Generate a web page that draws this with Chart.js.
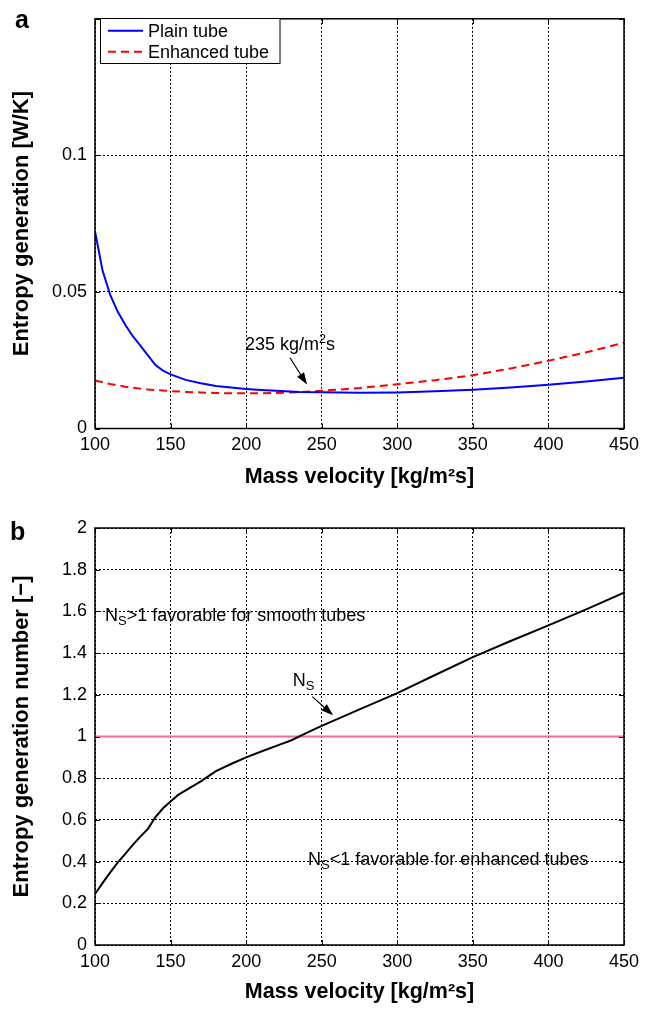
<!DOCTYPE html>
<html>
<head>
<meta charset="utf-8">
<script src="https://cdn.jsdelivr.net/npm/chart.js@4"></script>
<style>
  html, body { margin: 0; padding: 0; background: #fff; }
  #wrap { position: relative; width: 652px; height: 1011px; }
  .box { position: absolute; left: 0; width: 652px; }
</style>
</head>
<body>
<div id="wrap">
  <div class="box" style="top:0; height:500px;"><canvas id="chartA"></canvas></div>
  <div class="box" style="top:500px; height:511px;"><canvas id="chartB"></canvas></div>
</div>
<script>
// ---- data ----
const massA = [100,105,110,115,120,125,130,135,140,145,150,160,170,180,190,200,210,220,235,250,275,300,325,350,375,400,425,450];
const plainTube = [0.0722,0.0578,0.049,0.0428,0.038,0.0338,0.0303,0.0268,0.0232,0.0212,0.0198,0.0178,0.0166,0.0156,0.015,0.0145,0.0141,0.0138,0.0134,0.0133,0.0131,0.0132,0.0136,0.0142,0.015,0.016,0.0172,0.0186];
const enhancedTube = [0.0176,0.0169,0.0163,0.0158,0.0153,0.0149,0.0146,0.0143,0.0141,0.0139,0.0137,0.0134,0.0132,0.013,0.0129,0.0129,0.0129,0.013,0.0133,0.0138,0.0148,0.0162,0.0177,0.0195,0.022,0.0248,0.0279,0.0314];

const massB = [100,105,110,115,120,125,130,135,140,145,150,155,160,170,180,190,200,210,220,230,240,250,275,300,325,350,375,400,425,450];
const entropyNumber = [0.245,0.297,0.347,0.395,0.437,0.48,0.52,0.557,0.614,0.656,0.688,0.72,0.742,0.785,0.834,0.868,0.9,0.928,0.955,0.982,1.017,1.051,1.13,1.208,1.295,1.381,1.458,1.533,1.61,1.69];
const unityX = [100, 450];
const unityY = [1, 1];

const xTitle = 'Mass velocity [kg/m²s]';
const yTitleA = 'Entropy generation [W/K]';
const yTitleB = 'Entropy generation number [−]';

const FONT = "'Liberation Sans', Arial, Helvetica, sans-serif";
const pts = (xs, ys) => xs.map((x, i) => ({ x, y: ys[i] }));

// axes in a MATLAB-like style: dotted grid, fixed gutters
function axes(opt) {
  return {
    x: {
      type: 'linear', min: 100, max: 450,
      afterFit: s => { s.height = opt.xAxisH; },
      ticks: { stepSize: 50, color: '#000', padding: 6, font: { family: FONT, size: 18 } },
      grid: { color: '#000', lineWidth: 1, drawTicks: false },
      border: { display: false, dash: [2, 2] },
      title: { display: true, text: xTitle, color: '#000', padding: { top: 0, bottom: opt.xTitlePad },
               font: { family: FONT, size: 21.5, weight: 'bold' } }
    },
    y: {
      type: 'linear', min: 0, max: opt.yMax,
      afterFit: s => { s.width = 95; },
      ticks: { stepSize: opt.yStep, color: '#000', padding: 8, font: { family: FONT, size: 18 },
               callback: opt.yFmt },
      grid: { color: '#000', lineWidth: 1, drawTicks: false },
      border: { display: false, dash: [2, 2] },
      title: { display: true, text: opt.yTitle, color: '#000', padding: { top: 8.4, bottom: 0 },
               font: { family: FONT, size: 22, weight: 'bold' } }
    }
  };
}

// box + inward tick marks
const framePlugin = {
  id: 'frame',
  afterDraw(chart) {
    const { ctx, chartArea: a, scales: { x, y } } = chart;
    ctx.save();
    ctx.setLineDash([]);
    ctx.strokeStyle = '#000';
    ctx.lineWidth = 1;
    ctx.beginPath();
    x.ticks.forEach(t => {
      const px = Math.round(x.getPixelForValue(t.value)) + 0.5;
      ctx.moveTo(px, a.bottom); ctx.lineTo(px, a.bottom - 5);
      ctx.moveTo(px, a.top); ctx.lineTo(px, a.top + 5);
    });
    y.ticks.forEach(t => {
      const py = Math.round(y.getPixelForValue(t.value)) + 0.5;
      ctx.moveTo(a.left, py); ctx.lineTo(a.left + 5, py);
      ctx.moveTo(a.right, py); ctx.lineTo(a.right - 5, py);
    });
    ctx.stroke();
    ctx.lineWidth = 1.5;
    ctx.strokeRect(a.left, a.top, a.width, a.height);
    ctx.restore();
  }
};

function textParts(ctx, parts, x, y) {
  let cx = x;
  parts.forEach(([t, size, dy]) => {
    ctx.font = size + 'px ' + FONT;
    ctx.fillText(t, cx, y + dy);
    cx += ctx.measureText(t).width;
  });
}

function arrow(ctx, x1, y1, x2, y2) {
  ctx.beginPath();
  ctx.moveTo(x1, y1); ctx.lineTo(x2, y2);
  ctx.stroke();
  const ang = Math.atan2(y2 - y1, x2 - x1), L = 10, w = 0.33;
  ctx.beginPath();
  ctx.moveTo(x2 - L * Math.cos(ang - w), y2 - L * Math.sin(ang - w));
  ctx.lineTo(x2, y2);
  ctx.lineTo(x2 - L * Math.cos(ang + w), y2 - L * Math.sin(ang + w));
  ctx.closePath();
  ctx.fill();
  ctx.stroke();
}

function notes(draw) {
  return {
    id: 'notes',
    afterDraw(chart) {
      const { ctx, scales: { x, y } } = chart;
      const px = v => x.getPixelForValue(v), py = v => y.getPixelForValue(v);
      ctx.save();
      ctx.setLineDash([]);
      ctx.fillStyle = '#000';
      ctx.strokeStyle = '#000';
      ctx.lineWidth = 1.2;
      ctx.textBaseline = 'alphabetic';
      ctx.textAlign = 'left';
      draw(ctx, px, py, chart);
      ctx.restore();
    }
  };
}

const common = {
  responsive: true, maintainAspectRatio: false, animation: false,
  elements: { point: { radius: 0 }, line: { tension: 0 } },
  plugins: { legend: { display: false }, tooltip: { enabled: false } }
};

// ---- (a) entropy generation ----
new Chart(document.getElementById('chartA'), {
  type: 'line',
  data: {
    datasets: [
      { label: 'Plain tube', data: pts(massA, plainTube), borderColor: '#0000ff', borderWidth: 2 },
      { label: 'Enhanced tube', data: pts(massA, enhancedTube), borderColor: '#ff0000', borderWidth: 2, borderDash: [8, 5] }
    ]
  },
  options: {
    ...common,
    layout: { padding: { top: 12.5, right: 28, bottom: 0, left: 0 } },
    scales: axes({ xAxisH: 71.5, xTitlePad: 9.6, yMax: 0.15, yStep: 0.05, yTitle: yTitleA,
                   yFmt: v => Math.abs(v - 0.15) < 1e-9 ? '' : +v.toFixed(2) })
  },
  plugins: [framePlugin, notes((ctx, px, py, chart) => {
    // legend box
    ctx.fillStyle = '#fff';
    ctx.fillRect(100.5, 18.5, 179.5, 45);
    ctx.lineWidth = 1;
    ctx.strokeRect(100.5, 18.5, 179.5, 45);
    chart.data.datasets.forEach((ds, i) => {
      const yy = 30.7 + i * 21;
      ctx.strokeStyle = ds.borderColor;
      ctx.lineWidth = 2;
      ctx.setLineDash(ds.borderDash || []);
      ctx.beginPath(); ctx.moveTo(108, yy); ctx.lineTo(143, yy); ctx.stroke();
      ctx.setLineDash([]);
      ctx.fillStyle = '#000';
      ctx.font = '18px ' + FONT;
      ctx.textBaseline = 'middle';
      ctx.fillText(ds.label, 148, yy + 1);
    });
    ctx.textBaseline = 'alphabetic';
    ctx.strokeStyle = '#000';
    ctx.lineWidth = 1.2;
    textParts(ctx, [['235 kg/m', 18, 0], ['2', 12.5, -7], ['s', 18, 0]], px(199.2), py(0.0289));
    arrow(ctx, px(229), py(0.0259), px(239.6), py(0.01666));
    ctx.font = 'bold 25px ' + FONT;
    ctx.fillText('a', 15, 28.3);
  })]
});

// ---- (b) entropy generation number ----
new Chart(document.getElementById('chartB'), {
  type: 'line',
  data: {
    datasets: [
      { label: 'NS', data: pts(massB, entropyNumber), borderColor: '#000', borderWidth: 2 },
      { label: 'NS = 1', data: pts(unityX, unityY), borderColor: '#ff6699', borderWidth: 2 }
    ]
  },
  options: {
    ...common,
    layout: { padding: { top: 28, right: 28, bottom: 0, left: 0 } },
    scales: axes({ xAxisH: 66, xTitlePad: 6.4, yMax: 2, yStep: 0.2, yTitle: yTitleB,
                   yFmt: v => +v.toFixed(1) })
  },
  plugins: [framePlugin, notes((ctx, px, py) => {
    textParts(ctx, [['N', 18, 0], ['S', 13, 4], ['>1 favorable for smooth tubes', 18, 0]], px(106.6), py(1.555));
    textParts(ctx, [['N', 18, 0], ['S', 13, 4], ['<1 favorable for enhanced tubes', 18, 0]], px(241), py(0.3856));
    textParts(ctx, [['N', 18, 0], ['S', 13, 4]], px(230.9), py(1.2436));
    arrow(ctx, px(243.8), py(1.191), px(256.6), py(1.108));
    ctx.font = 'bold 25px ' + FONT;
    ctx.fillText('b', 10, 40);
  })]
});
</script>
</body>
</html>
